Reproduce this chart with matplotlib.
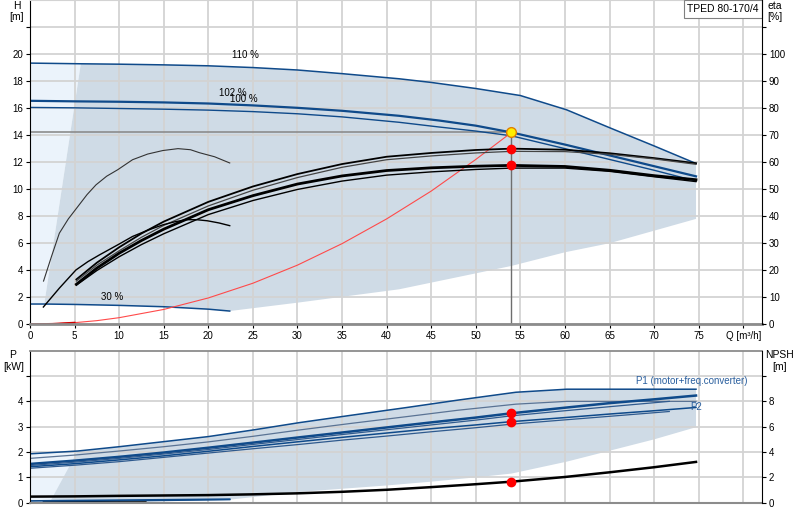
import matplotlib
matplotlib.use("Agg")
import matplotlib.pyplot as plt

plt.rcParams['font.family'] = ['Liberation Sans', 'DejaVu Sans']
plt.rcParams['font.size'] = 7

BLUE = '#0f4a8a'
BLUE_THIN = '#2f5a8e'
SHADE = '#cfdbe6'
LIGHT = '#ebf3fb'
GRID = '#d3d3d3'

# ---- H curves (m) ----
Q_110 = [0, 5.7, 10, 15, 20, 25, 30, 35, 41.4, 45, 50, 55, 60.2, 65, 70, 74.7]
H_110 = [19.33, 19.28, 19.25, 19.2, 19.13, 19.0, 18.82, 18.55, 18.17, 17.9, 17.45, 16.93, 15.87, 14.55, 13.2, 11.9]

Q_SPEED = [0, 5, 10, 15, 20, 25, 30, 35, 41.4, 45.9, 50, 54, 60, 65, 70, 74.7]
H_102 = [16.54, 16.5, 16.47, 16.42, 16.34, 16.2, 16.02, 15.8, 15.43, 15.08, 14.7, 14.2, 13.3, 12.5, 11.7, 10.95]
H_100 = [16.05, 16.02, 15.97, 15.92, 15.85, 15.74, 15.58, 15.35, 14.95, 14.6, 14.3, 13.95, 13.0, 12.2, 11.4, 10.6]

Q_30 = [0, 1.6, 5, 10, 15, 20, 22.4]
H_30 = [1.5, 1.5, 1.47, 1.4, 1.3, 1.12, 0.98]

# lower edge of the operating range
Q_LOW = [74.7, 65, 60, 54, 41.4, 30, 22.4]
H_LOW = [7.8, 6.0, 5.33, 4.32, 2.59, 1.6, 0.98]

# light area left of the range
Q_LIGHT = [0, 1.6, 5.7, 0]
H_LIGHT = [1.5, 1.5, 19.28, 19.33]

# system curve
Q_SYS = [0, 2.5, 5, 7.5, 10, 15, 20, 25, 30, 35, 40, 45, 50, 54]
H_SYS = [0, 0.03, 0.12, 0.27, 0.49, 1.1, 1.95, 3.04, 4.38, 5.97, 7.8, 9.86, 12.2, 14.2]

# ---- eta curves (%) ----
Q_ETA = [5.2, 7.5, 10, 12.5, 15, 20, 25, 30, 35, 40, 45, 50, 54, 60, 65, 70, 74.7]
ETA_U1 = [16.6, 22.8, 28.5, 33.6, 38.0, 45.3, 51.0, 55.6, 59.3, 62.0, 63.4, 64.5, 65.0, 64.6, 63.3, 61.5, 59.6]
ETA_U2 = [16.0, 21.9, 27.2, 32.2, 36.6, 43.8, 49.6, 54.3, 58.1, 60.9, 62.3, 63.4, 64.0, 63.9, 62.9, 61.2, 59.2]
ETA_L1 = [14.8, 20.8, 26.3, 31.0, 35.2, 42.4, 47.6, 51.9, 54.9, 56.9, 57.9, 58.5, 58.8, 58.4, 57.0, 55.0, 53.5]
ETA_L2 = [14.5, 19.9, 25.0, 29.5, 33.5, 40.6, 45.8, 49.9, 53.0, 55.2, 56.4, 57.3, 57.8, 57.8, 56.6, 54.6, 52.8]

Q_E30A = [1.52, 2.4, 3.29, 4.3, 5.35, 6.4, 7.4, 8.6, 9.84, 11.5, 13.2, 14.9, 16.6, 18.0, 19.0, 20.7, 22.4]
ETA_E30A = [16.0, 25.0, 33.7, 39.0, 43.5, 48.0, 51.6, 54.8, 57.2, 60.9, 63.0, 64.3, 65.0, 64.6, 63.5, 62.0, 59.7]
Q_E30B = [1.5, 3.3, 5.15, 6.5, 7.8, 9.84, 11.5, 13.2, 14.9, 16.2, 17.5, 18.7, 19.9, 21.2, 22.4]
ETA_E30B = [6.4, 13.4, 20.1, 23.2, 25.7, 29.4, 32.5, 34.8, 36.8, 37.9, 38.7, 38.7, 38.3, 37.5, 36.5]

# duty point
Q_DUTY = 54
H_DUTY = 14.2
ETA_DUTY = [65, 58.8]

# ---- power (kW) ----
Q_P1MAX = [0, 5.35, 10, 15, 20, 25, 30.2, 36, 42.3, 48, 54.5, 60.2, 74.7]
P_P1MAX = [1.93, 2.04, 2.21, 2.41, 2.61, 2.87, 3.16, 3.45, 3.76, 4.05, 4.36, 4.48, 4.48]
Q_P2MAX = [0, 5, 10, 15, 20, 25, 30.2, 36, 42.3, 48, 54.5, 60.2, 74.7]
P_P2MAX = [1.75, 1.88, 2.04, 2.21, 2.4, 2.62, 2.87, 3.13, 3.4, 3.65, 3.89, 4.0, 4.0]

Q_PA = [0, 5, 10, 15, 20, 25, 30.2, 35, 40, 45, 50, 54, 60, 65, 70, 74.7]
P1_102 = [1.53, 1.66, 1.81, 1.98, 2.17, 2.37, 2.58, 2.77, 2.97, 3.17, 3.36, 3.53, 3.75, 3.93, 4.08, 4.23]
P2_102 = [1.42, 1.54, 1.69, 1.85, 2.03, 2.22, 2.41, 2.58, 2.75, 2.92, 3.07, 3.2, 3.36, 3.5, 3.63, 3.76]
Q_PB = [0, 5, 10, 15, 20, 25, 30.2, 35, 40, 45, 50, 54, 60, 65, 71.7]
P1_100 = [1.47, 1.6, 1.75, 1.92, 2.1, 2.3, 2.5, 2.69, 2.88, 3.07, 3.26, 3.43, 3.63, 3.79, 4.0]
P2_100 = [1.36, 1.48, 1.62, 1.79, 1.96, 2.13, 2.3, 2.47, 2.63, 2.8, 2.96, 3.1, 3.27, 3.41, 3.6]
P_DUTY = [3.53, 3.2]

Q_P30A = [0, 22.4]
P_P30A = [0.07, 0.14]
Q_P30B = [1.5, 22.4]
P_P30B = [0.03, 0.12]
Q_P30C = [1.5, 13]
P_P30C = [0.01, 0.03]

# range in the power chart
Q_PLOW = [74.7, 70, 65, 60.2, 54, 50, 45, 40, 35, 30, 25, 22.4, 10, 2.2]
P_PLOW = [2.98, 2.5, 2.05, 1.62, 1.15, 1.0, 0.83, 0.68, 0.55, 0.42, 0.22, 0.12, 0.06, 0.0]
Q_PLIGHT = [0, 2.2, 2.7, 3.5, 4.2, 4.97, 5.35, 0]
P_PLIGHT = [0, 0, 0.24, 0.55, 0.9, 1.42, 2.04, 1.93]

# NPSH (m)
Q_NPSH = [0, 5, 10, 15, 20, 25, 30, 35, 40, 45, 50, 54, 60, 65, 70, 74.7]
NPSH = [0.48, 0.5, 0.54, 0.57, 0.6, 0.66, 0.74, 0.86, 1.02, 1.23, 1.46, 1.66, 2.03, 2.4, 2.8, 3.22]
NPSH_DUTY = 1.66


def style_axes(ax, twin):
    ax.set_xlim(0, 82.1)
    ax.grid(True, color=GRID, lw=1.3)
    ax.set_axisbelow(True)
    for side in ['left', 'right', 'top', 'bottom']:
        twin.spines[side].set_visible(False)
    twin.spines['right'].set_visible(True)
    twin.spines['right'].set_color('black')
    ax.spines['left'].set_color('black')
    ax.spines['right'].set_visible(False)
    ax.tick_params(direction='out', length=3, width=0.8, pad=2, labelsize=7)
    twin.tick_params(direction='out', length=3, width=0.8, pad=2, labelsize=7)


def main():
    fig = plt.figure(figsize=(8, 5.2), dpi=100)

    # ---------- head / efficiency ----------
    ax = fig.add_axes([30 / 800, 1 - 324.3 / 520, 732 / 800, 324.3 / 520])
    ax.set_ylim(0, 24)
    ax2 = ax.twinx()
    ax2.set_ylim(0, 120)
    style_axes(ax, ax2)
    ax.spines['top'].set_color(GRID)
    ax.spines['bottom'].set_color('#8c8c8c')
    ax.spines['bottom'].set_linewidth(2)

    ax.fill(Q_LIGHT, H_LIGHT, color=LIGHT, zorder=0.2, lw=0)
    poly_q = Q_110[1:] + Q_LOW + Q_30[1:][::-1]
    poly_h = H_110[1:] + H_LOW + H_30[1:][::-1]
    ax.fill(poly_q, poly_h, color=SHADE, zorder=0.3, lw=0)

    ax.plot(Q_110, H_110, color=BLUE, lw=1.1)
    ax.plot(Q_SPEED, H_102, color=BLUE, lw=1.6)
    ax.plot(Q_SPEED, H_100, color=BLUE, lw=1.0)
    ax.plot(Q_30, H_30, color=BLUE, lw=1.1)
    ax.plot(Q_SYS, H_SYS, color='#ff4a4a', lw=0.8)
    ax.plot(Q_SYS[:3], H_SYS[:3], color='#d00000', lw=1.4)

    ax.plot([0, Q_DUTY], [H_DUTY, H_DUTY], color='#8c8c8c', lw=1.2, zorder=1.5)
    ax.plot([Q_DUTY, Q_DUTY], [0, H_DUTY], color='#6e6e6e', lw=1.0, zorder=1.5)

    ax.text(24.2, 19.9, '110 %', ha='center', va='center')
    ax.text(22.7, 17.15, '102 %', ha='center', va='center')
    ax.text(24.0, 16.66, '100 %', ha='center', va='center')
    ax.text(9.2, 2.05, '30 %', ha='center', va='center')

    ax2.plot(Q_ETA, ETA_U1, color='black', lw=1.3)
    ax2.plot(Q_ETA, ETA_U2, color='#444444', lw=0.9)
    ax2.plot(Q_ETA, ETA_L1, color='black', lw=2.0)
    ax2.plot(Q_ETA, ETA_L2, color='black', lw=1.0)
    ax2.plot(Q_E30A, ETA_E30A, color='#333333', lw=0.8)
    ax2.plot(Q_E30B, ETA_E30B, color='black', lw=1.0)
    ax2.plot([Q_DUTY] * len(ETA_DUTY), ETA_DUTY, 'o', color='#ff0000', ms=6, mec='#ff0000', zorder=5)
    ax.plot([Q_DUTY], [H_DUTY], 'o', color='#ffee00', ms=7, mec='#e08000', mew=1.0, zorder=6)

    ax.set_xticks(range(0, 85, 5))
    ax.set_xticklabels([str(v) for v in range(0, 80, 5)] + ['Q [m³/h]'])
    ax.set_yticks(range(0, 24, 2))
    ax.set_yticklabels([str(v) if v <= 20 else '' for v in range(0, 24, 2)])
    ax2.set_yticks(range(0, 120, 10))
    ax2.set_yticklabels([str(v) if v <= 100 else '' for v in range(0, 120, 10)])

    ax.text(0.9467, 0.972, 'TPED 80-170/4', transform=ax.transAxes, ha='center', va='center',
            fontsize=7.5, zorder=10,
            bbox=dict(boxstyle='square,pad=0.35', facecolor='white', edgecolor='#808080', lw=0.8))

    fig.text(16.5 / 800, 1 - 6 / 520, 'H', ha='center', va='center', fontsize=7.5)
    fig.text(17 / 800, 1 - 17 / 520, '[m]', ha='center', va='center', fontsize=7.5)
    fig.text(775 / 800, 1 - 6 / 520, 'eta', ha='center', va='center', fontsize=7.5)
    fig.text(775 / 800, 1 - 17 / 520, '[%]', ha='center', va='center', fontsize=7.5)

    # ---------- power / NPSH ----------
    axb = fig.add_axes([30 / 800, 1 - 502.7 / 520, 732 / 800, 152 / 520])
    axb.set_ylim(0, 6)
    axb2 = axb.twinx()
    axb2.set_ylim(0, 12)
    style_axes(axb, axb2)
    axb.spines['top'].set_color('#8c8c8c')
    axb.spines['top'].set_linewidth(1.3)
    axb.spines['bottom'].set_color('#8c8c8c')
    axb.spines['bottom'].set_linewidth(1.5)

    axb.fill(Q_PLIGHT, P_PLIGHT, color=LIGHT, zorder=0.2, lw=0)
    pq = Q_P1MAX[1:] + Q_PLOW
    pp = P_P1MAX[1:] + P_PLOW
    axb.fill(pq, pp, color=SHADE, zorder=0.3, lw=0)

    axb.plot(Q_P1MAX, P_P1MAX, color=BLUE, lw=1.1)
    axb.plot(Q_P2MAX, P_P2MAX, color='#5a7394', lw=0.9)
    axb.plot(Q_PA, P1_102, color=BLUE, lw=1.8)
    axb.plot(Q_PB, P1_100, color=BLUE_THIN, lw=0.9)
    axb.plot(Q_PA, P2_102, color=BLUE, lw=1.1)
    axb.plot(Q_PB, P2_100, color=BLUE_THIN, lw=0.9)
    axb.plot(Q_P30A, P_P30A, color=BLUE, lw=1.2)
    axb.plot(Q_P30B, P_P30B, color=BLUE, lw=1.0)
    axb.plot(Q_P30C, P_P30C, color='black', lw=1.0)
    axb.plot([Q_DUTY] * len(P_DUTY), P_DUTY, 'o', color='#ff0000', ms=6, zorder=5)

    axb2.plot(Q_NPSH, NPSH, color='black', lw=1.8)
    axb2.plot([Q_DUTY], [NPSH_DUTY], 'o', color='#ff0000', ms=6, zorder=5)

    axb.text(68.0, 4.81, 'P1 (motor+freq.converter)', color='#2a5f9e', ha='left', va='center')
    axb.text(74.0, 3.76, 'P2', color='#2a5f9e', ha='left', va='center')

    axb.set_xticks(range(0, 85, 5))
    axb.tick_params(axis='x', length=0, labelbottom=False)
    axb.set_yticks(range(0, 6))
    axb.set_yticklabels([str(v) if v <= 4 else '' for v in range(0, 6)])
    axb2.set_yticks(range(0, 12, 2))
    axb2.set_yticklabels([str(v) if v <= 8 else '' for v in range(0, 12, 2)])

    fig.text(12.7 / 800, 1 - 355 / 520, 'P', ha='center', va='center', fontsize=7.5)
    fig.text(13.3 / 800, 1 - 366.7 / 520, '[kW]', ha='center', va='center', fontsize=7.5)
    fig.text(780 / 800, 1 - 355 / 520, 'NPSH', ha='center', va='center', fontsize=7.5)
    fig.text(780 / 800, 1 - 366.7 / 520, '[m]', ha='center', va='center', fontsize=7.5)

    fig.savefig('out.png', dpi=100)


if __name__ == "__main__":
    main()
